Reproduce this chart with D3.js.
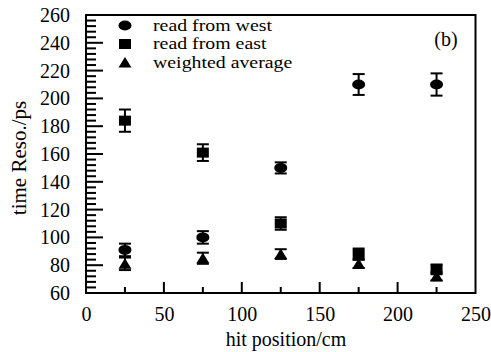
<!DOCTYPE html>
<html>
<head>
<meta charset="utf-8">
<script src="https://cdn.jsdelivr.net/npm/d3@7"></script>
<style>
body{margin:0;background:#fff}
text{font-family:"Liberation Serif","Times New Roman",serif;fill:#000}
</style>
</head>
<body>
<svg id="chart"></svg>
<script>
var hitPos = [25,75,125,175,225]

var westRes = [91,100,150,210,210]
var westErr = [4.5,4.5,4,7.5,8]

var eastRes = [184,161,110,88,77]
var eastErr = [8,6,4.5,4,3.5]

var avgRes = [81,85,88,81,72]
var avgErr = [4.5,4,3.5,3,3]

var seriesNames = ["read from west","read from east","weighted average"]
var xTicks = [0,50,100,150,200,250]
var yTicks = [60,80,100,120,140,160,180,200,220,240,260]

var screen = {width:491,height:352}
var margins = {top:15,right:15.5,left:86,bottom:59}

var width = screen.width - margins.left - margins.right
var height = screen.height - margins.top - margins.bottom

var svg = d3.select("#chart")
    .attr("width",screen.width)
    .attr("height",screen.height)

var xScale = d3.scaleLinear()
    .domain([0,250])
    .range([0,width])
var yScale = d3.scaleLinear()
    .domain([60,260])
    .range([height,0])

var graph = svg.append("g")
    .attr("transform","translate("+margins.left+","+margins.top+")")

// inside ticks, long ones every 20 / 50
var yMinor = d3.range(60,261,4)
graph.append("g")
    .selectAll("line")
    .data(yMinor)
    .enter()
    .append("line")
    .attr("x1",0)
    .attr("x2",function(d){ return d%20==0 ? 17 : 10 })
    .attr("y1",function(d){ return yScale(d)})
    .attr("y2",function(d){ return yScale(d)})
    .attr("stroke","black")
    .attr("stroke-width",2)

var xMinor = d3.range(25,250,25)
graph.append("g")
    .selectAll("line")
    .data(xMinor)
    .enter()
    .append("line")
    .attr("x1",function(d){ return xScale(d)})
    .attr("x2",function(d){ return xScale(d)})
    .attr("y1",height)
    .attr("y2",function(d){ return d%50==0 ? height-11 : height-6 })
    .attr("stroke","black")
    .attr("stroke-width",2)

var yAxis = d3.axisLeft(yScale).tickValues(yTicks).tickSize(0).tickPadding(16)
var xAxis = d3.axisBottom(xScale).tickValues(xTicks).tickSize(0).tickPadding(14)

graph.append("g")
    .attr("class","axis")
    .call(yAxis)
graph.append("g")
    .attr("class","axis")
    .attr("transform","translate(0,"+height+")")
    .call(xAxis)

graph.selectAll(".axis .domain").remove()
graph.selectAll(".axis text")
    .style("font-family","'Liberation Serif','Times New Roman',serif")
    .style("font-size","20px")

// frame
graph.append("rect")
    .attr("x",0)
    .attr("y",0)
    .attr("width",width)
    .attr("height",height)
    .attr("fill","none")
    .attr("stroke","black")
    .attr("stroke-width",2)

var drawErrors = function(vals, errs)
{
    var g = graph.append("g")
        .attr("stroke","black")
        .attr("stroke-width",2)
    g.selectAll("line.v")
        .data(vals)
        .enter()
        .append("line")
        .attr("x1",function(d,i){ return xScale(hitPos[i])})
        .attr("x2",function(d,i){ return xScale(hitPos[i])})
        .attr("y1",function(d,i){ return yScale(d+errs[i])})
        .attr("y2",function(d,i){ return yScale(d-errs[i])})
    ;[1,-1].forEach(function(s){
        g.selectAll(null)
            .data(vals)
            .enter()
            .append("line")
            .attr("x1",function(d,i){ return xScale(hitPos[i])-6})
            .attr("x2",function(d,i){ return xScale(hitPos[i])+6})
            .attr("y1",function(d,i){ return yScale(d+s*errs[i])})
            .attr("y2",function(d,i){ return yScale(d+s*errs[i])})
    })
}

var circlePath = function(cx,cy){
    return "M"+(cx-6.5)+","+cy+"a6.5,5 0 1,0 13,0a6.5,5 0 1,0 -13,0Z"
}
var squarePath = function(cx,cy){
    return "M"+(cx-6)+","+(cy-5)+"h12v10h-12Z"
}
var trianglePath = function(cx,cy){
    return "M"+cx+","+(cy-5.5)+"L"+(cx+6.5)+","+(cy+5)+"L"+(cx-6.5)+","+(cy+5)+"Z"
}
var shapes = [circlePath,squarePath,trianglePath]

var drawMarks = function(vals, shape)
{
    graph.append("g")
        .selectAll("path")
        .data(vals)
        .enter()
        .append("path")
        .attr("d",function(d,i){ return shape(xScale(hitPos[i]),yScale(d))})
        .attr("fill","black")
}

drawErrors(westRes,westErr)
drawErrors(eastRes,eastErr)
drawErrors(avgRes,avgErr)
drawMarks(westRes,circlePath)
drawMarks(eastRes,squarePath)
drawMarks(avgRes,trianglePath)

// legend (text in the original is drawn wide)
var legend = svg.append("g")
legend.selectAll("path")
    .data(seriesNames)
    .enter()
    .append("path")
    .attr("d",function(d,i){ return shapes[i](125,25.5+i*18.5)})
    .attr("fill","black")
legend.selectAll("text")
    .data(seriesNames)
    .enter()
    .append("text")
    .attr("transform",function(d,i){ return "translate(153,"+(30.5+i*18.5)+") scale(1.24,1)"})
    .style("font-size","16px")
    .text(function(d){ return d})

svg.append("text")
    .attr("x",446)
    .attr("y",46)
    .attr("text-anchor","middle")
    .style("font-size","20px")
    .text("(b)")

svg.append("text")
    .attr("x",286)
    .attr("y",346)
    .attr("text-anchor","middle")
    .style("font-size","20px")
    .text("hit position/cm")

svg.append("text")
    .attr("transform","translate(26,"+(margins.top+height/2+4)+") rotate(-90)")
    .attr("text-anchor","middle")
    .style("font-size","21px")
    .text("time Reso./ps")
</script>
</body>
</html>
